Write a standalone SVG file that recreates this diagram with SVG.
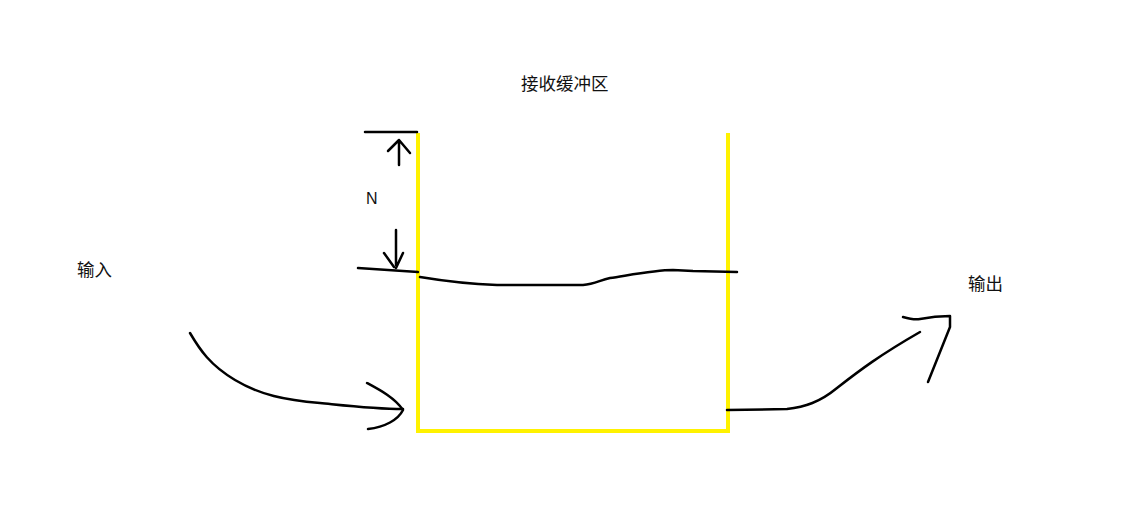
<svg xmlns="http://www.w3.org/2000/svg" width="1122" height="515" viewBox="0 0 1122 515">
<style>
.ink{fill:none;stroke:#000;stroke-width:2.5;stroke-linecap:round;stroke-linejoin:round}
.box{fill:none;stroke:#fff200;stroke-width:4;stroke-linejoin:miter}
.lbl{font-family:"Microsoft YaHei","Noto Sans CJK SC",sans-serif;font-size:17.5px;fill:#111}
.n{font-family:"Liberation Sans",Arial,sans-serif;font-size:16px;fill:#111}
</style>
<rect width="1122" height="515" fill="#fff"/>
<g id="title"><text class="lbl" x="521" y="90">接收缓冲区</text></g>
<g id="buffer">
<path class="box" d="M418,133 V431 H728 V133"/>
</g>
<g id="level">
<path class="ink" d="M358,268 L418,272"/>
<path class="ink" d="M420,277 C450,282 470,284 497,285 L583,285 C595,284 600,280 610,278 C630,275 655,270 673,270 L693,271 L737,272"/>
</g>
<g id="n-marker">
<path class="ink" d="M365,132 H417"/>
<path class="ink" d="M399,140 V165 M388,151 L399,140 L410,153"/>
<path class="ink" d="M396,230 V265 M384,253 L394,267 M403,253 L396,268"/>
<text class="n" x="366" y="204">N</text>
</g>
<g id="input"><text class="lbl" x="77" y="276">输入</text></g>
<g id="output"><text class="lbl" x="968" y="290">输出</text></g>
<g id="connectors">
<path class="ink" d="M190,333 C200,350 210,365 235,380 C260,395 285,400 320,403 C350,406 375,409 403,409"/>
<path class="ink" d="M367,383 C380,390 395,398 403,410 C398,420 385,427 368,429"/>
<path class="ink" d="M727,410 L787,409 C805,407 820,402 837,388 C860,370 880,355 920,332"/>
<path class="ink" d="M903,317 C910,319 915,320 920,319 C930,317 940,316 950,316 L950,327 L928,382"/>
</g>
</svg>
